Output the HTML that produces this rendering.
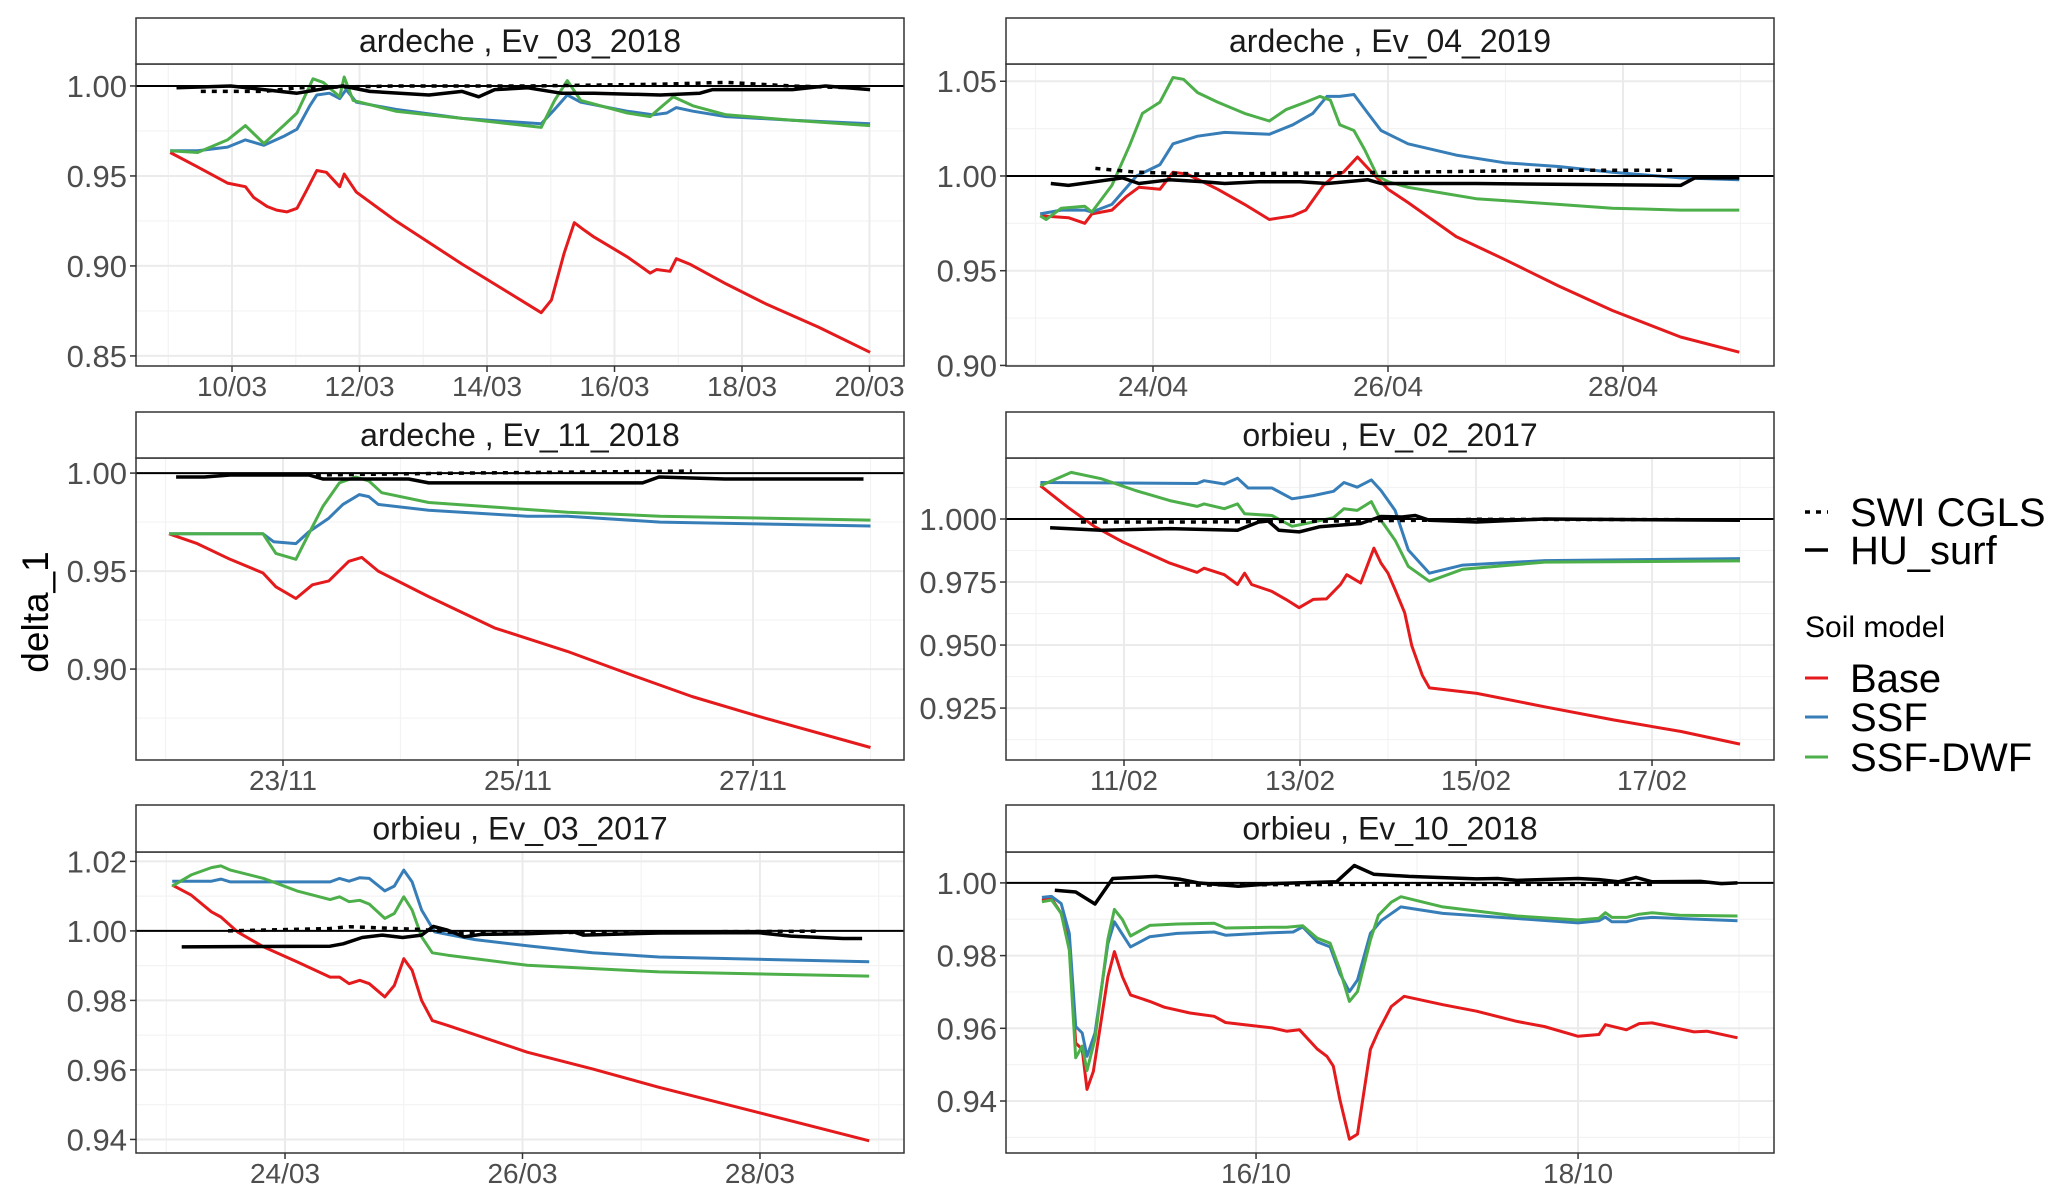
<!DOCTYPE html>
<html><head><meta charset="utf-8"><style>
html,body{margin:0;padding:0;background:#fff;}
svg{display:block;font-family:"Liberation Sans",Arial,sans-serif;}
</style></head><body>
<svg id="chart" width="2067" height="1201" viewBox="0 0 2067 1201" xmlns="http://www.w3.org/2000/svg">
<rect x="0" y="0" width="2067" height="1201" fill="#fff"/>
<text x="0" y="0" transform="translate(48,612) rotate(-90)" text-anchor="middle" font-size="37" fill="#000">delta_1</text>
<g>
<line x1="1805" y1="512" x2="1828" y2="512" stroke="#000" stroke-width="3.5" stroke-dasharray="5 6"/>
<text x="1850" y="526" font-size="40">SWI CGLS</text>
<line x1="1805" y1="550" x2="1828" y2="550" stroke="#000" stroke-width="3.5"/>
<text x="1850" y="564" font-size="40">HU_surf</text>
<text x="1805" y="637" font-size="30">Soil model</text>
<line x1="1805" y1="678" x2="1828" y2="678" stroke="#e41a1c" stroke-width="3"/>
<text x="1850" y="692" font-size="40">Base</text>
<line x1="1805" y1="717" x2="1828" y2="717" stroke="#377eb8" stroke-width="3"/>
<text x="1850" y="731" font-size="40">SSF</text>
<line x1="1805" y1="757" x2="1828" y2="757" stroke="#4daf4a" stroke-width="3"/>
<text x="1850" y="771" font-size="40">SSF-DWF</text>
</g>
</svg>
<script>
// ---------- Panel 1: ardeche , Ev_03_2018 (x = day of March) ----------
const p1XTicks=[10,12,14,16,18,20];
const p1XLabels=["10/03","12/03","14/03","16/03","18/03","20/03"];
const p1YTicks=[0.85,0.90,0.95,1.00];
const p1BaseT=[9.03,9.46,9.93,10.21,10.34,10.55,10.70,10.86,11.02,11.17,11.33,11.48,11.69,11.76,11.95,12.57,13.61,14.85,15.01,15.21,15.37,15.52,15.68,16.20,16.56,16.66,16.87,16.97,17.18,17.75,18.37,19.20,20.01];
const p1BaseV=[0.963,0.955,0.946,0.944,0.938,0.933,0.931,0.930,0.932,0.942,0.953,0.952,0.944,0.951,0.941,0.925,0.901,0.874,0.881,0.907,0.924,0.920,0.916,0.905,0.896,0.898,0.897,0.904,0.901,0.890,0.879,0.866,0.852];
const p1SsfT=[9.03,9.46,9.93,10.21,10.50,10.81,11.02,11.22,11.33,11.53,11.69,11.79,11.95,12.57,13.61,14.85,15.06,15.26,15.47,16.20,16.61,16.82,16.97,17.23,17.75,18.79,20.01];
const p1SsfV=[0.964,0.964,0.966,0.970,0.967,0.972,0.976,0.989,0.995,0.996,0.993,0.998,0.991,0.987,0.982,0.979,0.987,0.995,0.991,0.986,0.984,0.985,0.988,0.986,0.983,0.981,0.979];
const p1DwfT=[9.03,9.46,9.93,10.21,10.50,10.81,11.02,11.27,11.43,11.69,11.76,11.90,12.57,13.61,14.85,15.06,15.26,15.47,16.20,16.56,16.72,16.92,17.23,17.75,18.79,20.01];
const p1DwfV=[0.964,0.963,0.970,0.978,0.968,0.978,0.985,1.004,1.002,0.994,1.005,0.992,0.986,0.982,0.977,0.992,1.003,0.992,0.985,0.983,0.988,0.994,0.989,0.984,0.981,0.978];
const p1HuT=[9.13,9.98,10.50,11.02,11.53,11.74,12.16,13.09,13.61,13.87,14.12,14.64,15.16,15.68,16.72,17.34,17.54,18.79,19.31,20.01];
const p1HuV=[0.999,1.000,0.998,0.996,0.999,1.000,0.997,0.995,0.997,0.994,0.998,0.999,0.996,0.996,0.995,0.996,0.998,0.998,1.000,0.998];
const p1SwiT=[9.51,10.50,11.02,12.57,14.64,16.72,17.75,18.79,19.72];
const p1SwiV=[0.997,0.997,0.999,1.000,1.000,1.001,1.002,1.000,0.999];

// ---------- Panel 2: ardeche , Ev_04_2019 (day of April) ----------
const p2XTicks=[24,26,28];
const p2XLabels=["24/04","26/04","28/04"];
const p2YTicks=[0.90,0.95,1.00,1.05];
const p2BaseT=[23.04,23.28,23.42,23.48,23.65,23.77,23.88,24.06,24.17,24.29,24.55,24.78,24.99,25.19,25.30,25.45,25.54,25.62,25.74,25.86,26.00,26.17,26.58,26.99,27.45,27.91,28.49,28.99];
const p2BaseV=[0.979,0.978,0.975,0.980,0.982,0.989,0.994,0.993,1.002,1.001,0.993,0.985,0.977,0.979,0.982,0.995,1.000,1.002,1.010,1.002,0.993,0.986,0.968,0.956,0.942,0.929,0.915,0.907];
const p2SsfT=[23.04,23.22,23.42,23.48,23.65,23.86,24.06,24.17,24.38,24.61,24.99,25.19,25.36,25.48,25.59,25.71,25.83,25.94,26.17,26.58,26.99,27.45,27.91,28.49,28.99];
const p2SsfV=[0.980,0.982,0.982,0.981,0.985,1.000,1.006,1.017,1.021,1.023,1.022,1.027,1.033,1.042,1.042,1.043,1.033,1.024,1.017,1.011,1.007,1.005,1.002,0.999,0.998];
const p2DwfT=[23.04,23.09,23.22,23.42,23.48,23.65,23.80,23.91,24.06,24.17,24.26,24.38,24.55,24.78,24.99,25.13,25.30,25.42,25.51,25.59,25.71,25.80,25.91,26.00,26.17,26.46,26.75,26.99,27.45,27.91,28.49,28.99];
const p2DwfV=[0.979,0.977,0.983,0.984,0.981,0.995,1.016,1.033,1.039,1.052,1.051,1.044,1.039,1.033,1.029,1.035,1.039,1.042,1.040,1.027,1.024,1.014,1.000,0.997,0.994,0.991,0.988,0.987,0.985,0.983,0.982,0.982];
const p2HuT=[23.13,23.28,23.51,23.74,23.88,24.14,24.43,24.61,24.90,25.25,25.48,25.83,25.94,26.75,28.49,28.61,28.99];
const p2HuV=[0.996,0.995,0.997,0.999,0.996,0.998,0.997,0.996,0.997,0.997,0.996,0.998,0.996,0.996,0.995,0.999,0.999];
const p2SwiT=[23.51,23.86,24.43,26.17,27.33,28.43];
const p2SwiV=[1.004,1.002,1.001,1.002,1.003,1.003];

// ---------- Panel 3: ardeche , Ev_11_2018 (day of November) ----------
const p3XTicks=[23,25,27];
const p3XLabels=["23/11","25/11","27/11"];
const p3YTicks=[0.90,0.95,1.00];
const p3BaseT=[22.03,22.27,22.55,22.83,22.94,23.11,23.25,23.39,23.56,23.67,23.81,24.24,24.80,25.42,25.92,26.48,27.04,28.00];
const p3BaseV=[0.969,0.964,0.956,0.949,0.942,0.936,0.943,0.945,0.955,0.957,0.950,0.937,0.921,0.909,0.898,0.886,0.876,0.860];
const p3SsfT=[22.03,22.83,22.92,23.11,23.22,23.39,23.51,23.65,23.73,23.81,24.24,25.08,25.42,26.21,28.00];
const p3SsfV=[0.969,0.969,0.965,0.964,0.970,0.977,0.984,0.989,0.988,0.984,0.981,0.978,0.978,0.975,0.973];
const p3DwfT=[22.03,22.83,22.94,23.11,23.22,23.34,23.48,23.62,23.73,23.84,24.24,25.42,26.21,28.00];
const p3DwfV=[0.969,0.969,0.959,0.956,0.969,0.983,0.995,0.998,0.996,0.990,0.985,0.980,0.978,0.976];
const p3HuT=[22.09,22.33,22.55,23.22,23.34,24.07,24.24,25.36,26.06,26.20,26.76,27.33,27.94];
const p3HuV=[0.998,0.998,0.999,0.999,0.997,0.997,0.995,0.995,0.995,0.998,0.997,0.997,0.997];
const p3SwiT=[23.28,24.52,26.48];
const p3SwiV=[0.999,1.000,1.001];

// ---------- Panel 4: orbieu , Ev_02_2017 (day of February) ----------
const p4XTicks=[11,13,15,17];
const p4XLabels=["11/02","13/02","15/02","17/02"];
const p4YTicks=[0.925,0.950,0.975,1.000];
const p4BaseT=[10.05,10.36,10.67,10.98,11.52,11.83,11.91,12.14,12.29,12.37,12.45,12.68,12.84,12.99,13.15,13.30,13.46,13.53,13.69,13.84,13.92,14.00,14.08,14.19,14.27,14.39,14.47,15.01,15.78,16.56,17.33,18.00];
const p4BaseV=[1.0132,1.0047,0.9969,0.9910,0.9825,0.9788,0.9805,0.9779,0.9740,0.9785,0.9740,0.9713,0.9681,0.9648,0.9681,0.9683,0.9740,0.9779,0.9746,0.9884,0.9825,0.9785,0.9720,0.9628,0.9497,0.9380,0.9330,0.9308,0.9255,0.9203,0.9157,0.9107];
const p4SsfT=[10.05,11.83,11.91,12.14,12.29,12.41,12.68,12.91,13.15,13.38,13.50,13.65,13.81,13.92,14.08,14.23,14.47,14.85,15.78,18.00];
const p4SsfV=[1.0145,1.0141,1.0152,1.0139,1.0162,1.0123,1.0123,1.0080,1.0093,1.0110,1.0145,1.0126,1.0155,1.0113,1.0034,0.9877,0.9785,0.9817,0.9835,0.9843];
const p4DwfT=[10.05,10.40,10.74,11.13,11.52,11.83,11.91,12.14,12.29,12.37,12.68,12.91,13.15,13.38,13.50,13.65,13.81,13.92,14.08,14.23,14.47,14.85,15.78,18.00];
const p4DwfV=[1.0132,1.0185,1.0160,1.0113,1.0073,1.0050,1.0060,1.0041,1.0060,1.0021,1.0014,0.9971,0.9988,1.0005,1.0041,1.0034,1.0069,0.9995,0.9916,0.9812,0.9753,0.9801,0.9829,0.9834];
const p4HuT=[10.16,10.74,11.52,12.29,12.53,12.64,12.76,12.99,13.22,13.69,13.92,14.16,14.31,14.47,15.01,15.78,18.00];
const p4HuV=[0.9965,0.9955,0.9962,0.9955,0.9988,0.9992,0.9955,0.9949,0.9969,0.9982,1.0010,1.0008,1.0014,0.9995,0.9988,1.0000,0.9995];
const p4SwiT=[10.51,11.91,13.46,14.39,15.01,18.00];
const p4SwiV=[0.9988,0.9988,0.9992,0.9995,0.9999,0.9997];

// ---------- Panel 5: orbieu , Ev_03_2017 (day of March) ----------
const p5XTicks=[24,26,28];
const p5XLabels=["24/03","26/03","28/03"];
const p5YTicks=[0.94,0.96,0.98,1.00,1.02];
const p5BaseT=[23.05,23.21,23.38,23.46,23.60,23.82,24.10,24.38,24.46,24.54,24.63,24.71,24.84,24.92,25.00,25.07,25.15,25.24,25.37,26.04,26.59,27.15,27.98,28.92];
const p5BaseV=[1.0132,1.0103,1.0055,1.0040,0.9997,0.9954,0.9911,0.9867,0.9867,0.9848,0.9858,0.9848,0.9810,0.9843,0.9920,0.9887,0.9800,0.9742,0.9728,0.9651,0.9603,0.9550,0.9478,0.9396];
const p5SsfT=[23.05,23.38,23.46,23.54,24.38,24.46,24.54,24.63,24.71,24.84,24.92,25.00,25.07,25.15,25.26,25.60,26.04,26.59,27.15,28.92];
const p5SsfV=[1.0143,1.0143,1.0149,1.0141,1.0141,1.0151,1.0143,1.0153,1.0151,1.0115,1.0129,1.0175,1.0141,1.0060,0.9997,0.9975,0.9957,0.9937,0.9925,0.9911];
const p5DwfT=[23.05,23.21,23.38,23.46,23.54,23.82,24.10,24.38,24.46,24.54,24.63,24.71,24.84,24.92,25.00,25.07,25.15,25.24,25.37,26.04,27.15,28.92];
const p5DwfV=[1.0129,1.0161,1.0182,1.0187,1.0175,1.0151,1.0115,1.0090,1.0098,1.0084,1.0088,1.0077,1.0036,1.0050,1.0098,1.0060,0.9983,0.9937,0.9930,0.9901,0.9882,0.9870];
const p5HuT=[23.13,24.38,24.49,24.65,24.82,24.99,25.15,25.25,25.37,25.51,25.65,26.04,26.43,26.51,27.15,27.98,28.26,28.70,28.86];
const p5HuV=[0.9954,0.9956,0.9963,0.9981,0.9988,0.9981,0.9988,1.0013,1.0002,0.9983,0.9990,0.9992,0.9997,0.9988,0.9994,0.9995,0.9985,0.9978,0.9978];
const p5SwiT=[23.52,24.38,24.54,25.15,25.48,28.48];
const p5SwiV=[1.0000,1.0007,1.0012,1.0004,0.9994,0.9999];

// ---------- Panel 6: orbieu , Ev_10_2018 (day of October) ----------
const p6XTicks=[16,18];
const p6XLabels=["16/10","18/10"];
const p6YTicks=[0.94,0.96,0.98,1.00];
const p6BaseT=[14.67,14.73,14.79,14.84,14.88,14.92,14.95,14.99,15.08,15.12,15.17,15.22,15.34,15.43,15.59,15.74,15.81,15.93,16.10,16.19,16.27,16.38,16.44,16.48,16.52,16.58,16.63,16.71,16.76,16.84,16.92,17.16,17.37,17.62,17.79,18.00,18.13,18.17,18.30,18.38,18.46,18.72,18.80,18.99];
const p6BaseV=[0.9953,0.9957,0.9916,0.9834,0.9560,0.9542,0.9432,0.9482,0.9742,0.9811,0.9742,0.9692,0.9674,0.9658,0.9642,0.9633,0.9616,0.9610,0.9601,0.9592,0.9596,0.9543,0.9523,0.9496,0.9405,0.9295,0.9309,0.9542,0.9592,0.9660,0.9688,0.9665,0.9647,0.9619,0.9605,0.9578,0.9583,0.9610,0.9596,0.9613,0.9615,0.9590,0.9592,0.9574];
const p6SsfT=[14.67,14.73,14.79,14.84,14.88,14.92,14.95,15.00,15.08,15.12,15.22,15.34,15.51,15.74,15.81,16.10,16.23,16.29,16.38,16.46,16.52,16.58,16.63,16.71,16.78,16.90,17.16,17.62,18.00,18.13,18.17,18.21,18.30,18.38,18.46,18.99];
const p6SsfV=[0.9960,0.9963,0.9943,0.9861,0.9605,0.9587,0.9523,0.9587,0.9833,0.9893,0.9824,0.9852,0.9861,0.9865,0.9856,0.9863,0.9865,0.9879,0.9838,0.9824,0.9751,0.9701,0.9733,0.9861,0.9897,0.9934,0.9916,0.9902,0.9890,0.9896,0.9906,0.9893,0.9893,0.9902,0.9905,0.9896];
const p6DwfT=[14.67,14.73,14.79,14.84,14.88,14.92,14.95,15.00,15.08,15.12,15.17,15.22,15.34,15.51,15.74,15.81,16.10,16.19,16.29,16.38,16.46,16.52,16.58,16.63,16.71,16.76,16.84,16.90,17.16,17.62,18.00,18.13,18.17,18.21,18.30,18.38,18.46,18.63,18.99];
const p6DwfV=[0.9948,0.9953,0.9916,0.9815,0.9519,0.9551,0.9484,0.9571,0.9845,0.9927,0.9899,0.9854,0.9883,0.9887,0.9889,0.9876,0.9878,0.9878,0.9882,0.9848,0.9834,0.9762,0.9674,0.9701,0.9843,0.9911,0.9947,0.9962,0.9934,0.9909,0.9898,0.9903,0.9918,0.9905,0.9905,0.9914,0.9918,0.9911,0.9909];
const p6HuT=[14.75,14.88,15.00,15.11,15.38,15.53,15.64,15.89,16.10,16.50,16.61,16.73,16.95,17.37,17.50,17.62,18.00,18.13,18.25,18.36,18.46,18.76,18.89,18.99];
const p6HuV=[0.9980,0.9975,0.9942,1.0012,1.0018,1.0010,1.0000,0.9991,0.9998,1.0003,1.0048,1.0024,1.0018,1.0011,1.0012,1.0007,1.0012,1.0009,1.0003,1.0015,1.0003,1.0004,0.9998,1.0000];
const p6SwiT=[15.49,16.52,18.46];
const p6SwiV=[0.9994,0.9996,0.9996];

const NS="http://www.w3.org/2000/svg";
const svg=document.getElementById('chart');
function mk(tag,attrs,parent){const e=document.createElementNS(NS,tag);for(const k in attrs)e.setAttribute(k,attrs[k]);(parent||svg).appendChild(e);return e;}

const panels=[
 {id:'p1',title:'ardeche , Ev_03_2018',L:136,R:904,ST:18,T:64,B:366,xd:[8.494,20.541],yd:[0.8444,1.0122],xt:p1XTicks,xl:p1XLabels,yt:p1YTicks,dec:2,s:[[p1SwiT,p1SwiV],[p1HuT,p1HuV],[p1BaseT,p1BaseV],[p1SsfT,p1SsfV],[p1DwfT,p1DwfV]]},
 {id:'p2',title:'ardeche , Ev_04_2019',L:1006,R:1774,ST:18,T:64,B:366,xd:[22.749,29.285],yd:[0.8997,1.0591],xt:p2XTicks,xl:p2XLabels,yt:p2YTicks,dec:2,s:[[p2SwiT,p2SwiV],[p2HuT,p2HuV],[p2BaseT,p2BaseV],[p2SsfT,p2SsfV],[p2DwfT,p2DwfV]]},
 {id:'p3',title:'ardeche , Ev_11_2018',L:136,R:904,ST:412,T:458,B:760,xd:[21.749,28.285],yd:[0.8536,1.0077],xt:p3XTicks,xl:p3XLabels,yt:p3YTicks,dec:2,s:[[p3SwiT,p3SwiV],[p3HuT,p3HuV],[p3BaseT,p3BaseV],[p3SsfT,p3SsfV],[p3DwfT,p3DwfV]]},
 {id:'p4',title:'orbieu , Ev_02_2017',L:1006,R:1774,ST:412,T:458,B:760,xd:[9.659,18.386],yd:[0.9044,1.0242],xt:p4XTicks,xl:p4XLabels,yt:p4YTicks,dec:3,s:[[p4SwiT,p4SwiV],[p4HuT,p4HuV],[p4BaseT,p4BaseV],[p4SsfT,p4SsfV],[p4DwfT,p4DwfV]]},
 {id:'p5',title:'orbieu , Ev_03_2017',L:136,R:904,ST:805,T:852,B:1153,xd:[22.745,29.213],yd:[0.9361,1.0227],xt:p5XTicks,xl:p5XLabels,yt:p5YTicks,dec:2,s:[[p5SwiT,p5SwiV],[p5HuT,p5HuV],[p5BaseT,p5BaseV],[p5SsfT,p5SsfV],[p5DwfT,p5DwfV]]},
 {id:'p6',title:'orbieu , Ev_10_2018',L:1006,R:1774,ST:805,T:852,B:1153,xd:[14.447,19.217],yd:[0.9257,1.0085],xt:p6XTicks,xl:p6XLabels,yt:p6YTicks,dec:2,s:[[p6SwiT,p6SwiV],[p6HuT,p6HuV],[p6BaseT,p6BaseV],[p6SsfT,p6SsfV],[p6DwfT,p6DwfV]]}
];
const seriesNames=['swi-cgls','hu-surf','base','ssf','ssf-dwf'];
const seriesColors=['#000','#000','#e41a1c','#377eb8','#4daf4a'];

panels.forEach(p=>{
  const g=mk('g',{});
  
  
  const sx=v=>p.L+(v-p.xd[0])/(p.xd[1]-p.xd[0])*(p.R-p.L);
  const sy=v=>p.B-(v-p.yd[0])/(p.yd[1]-p.yd[0])*(p.B-p.T);
  mk('rect',{x:p.L,y:p.T,width:p.R-p.L,height:p.B-p.T,fill:'#fff'},g);
  const xs=p.xt[1]-p.xt[0], ys=p.yt[1]-p.yt[0];
  const minor=(ticks,st,d)=>{const a=[];for(let v=ticks[0]-st/2;v>d[0];v-=st)a.push(v);for(let v=ticks[0]+st/2;v<d[1];v+=st)a.push(v);return a;};
  minor(p.xt,xs,p.xd).forEach(v=>{const l=mk('line',{x1:sx(v),x2:sx(v),y1:p.T,y2:p.B,stroke:'#f3f3f3','stroke-width':1.2},g);});
  minor(p.yt,ys,p.yd).forEach(v=>{const l=mk('line',{x1:p.L,x2:p.R,y1:sy(v),y2:sy(v),stroke:'#f3f3f3','stroke-width':1.2},g);});
  p.xt.forEach((v,i)=>{
    const l=mk('line',{x1:sx(v),x2:sx(v),y1:p.T,y2:p.B,stroke:'#ebebeb','stroke-width':2},g);
    
    const tk=mk('line',{x1:sx(v),x2:sx(v),y1:p.B,y2:p.B+6,stroke:'#333','stroke-width':1.5},g);
    
    const t=mk('text',{x:sx(v),y:p.B+30,'text-anchor':'middle','font-size':28,fill:'#4d4d4d'},g);
    t.textContent=p.xl[i];
    
  });
  p.yt.forEach(v=>{
    const l=mk('line',{x1:p.L,x2:p.R,y1:sy(v),y2:sy(v),stroke:'#ebebeb','stroke-width':2},g);
    
    const tk=mk('line',{x1:p.L-6,x2:p.L,y1:sy(v),y2:sy(v),stroke:'#333','stroke-width':1.5},g);
    
    const t=mk('text',{x:p.L-9,y:sy(v)+11,'text-anchor':'end','font-size':31,fill:'#4d4d4d'},g);
    t.textContent=v.toFixed(p.dec);
    
  });
  const cp=mk('clipPath',{id:'clip-'+p.id},g);
  mk('rect',{x:p.L,y:p.T,width:p.R-p.L,height:p.B-p.T},cp);
  const lg=mk('g',{'clip-path':'url(#clip-'+p.id+')'},g);
  [2,3,4,1,0].forEach(k=>{
    const [T,V]=p.s[k];
    const d=T.map((t,i)=>(i?'L':'M')+sx(t).toFixed(1)+','+sy(V[i]).toFixed(1)).join(' ');
    const path=mk('path',{d:d,fill:'none',stroke:seriesColors[k],'stroke-width':k<2?3.5:3,'stroke-linejoin':'round'},lg);
    if(k===0)path.setAttribute('stroke-dasharray','5 6');
    
    
  });
  const ref=mk('line',{x1:p.L,x2:p.R,y1:sy(1),y2:sy(1),stroke:'#000','stroke-width':2},lg);
  
  const br=mk('rect',{x:p.L,y:p.T,width:p.R-p.L,height:p.B-p.T,fill:'none',stroke:'#333','stroke-width':1.5},g);
  
  const sr=mk('rect',{x:p.L,y:p.ST,width:p.R-p.L,height:p.T-p.ST,fill:'#fff',stroke:'#333','stroke-width':1.5},g);
  
  const st=mk('text',{x:(p.L+p.R)/2,y:(p.ST+p.T)/2+11,'text-anchor':'middle','font-size':32,fill:'#1a1a1a'},g);
  st.textContent=p.title;
  
});
</script>
</body></html>
